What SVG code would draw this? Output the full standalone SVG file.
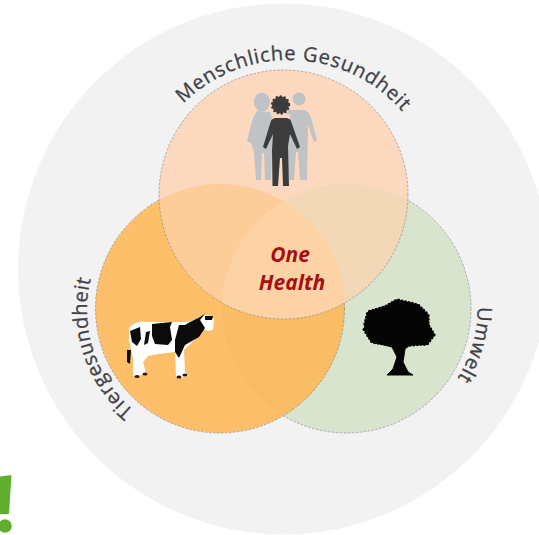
<svg xmlns="http://www.w3.org/2000/svg" width="539" height="535" viewBox="0 0 539 535">
<style>
.lbl{font-family:"Open Sans","Noto Sans","DejaVu Sans",sans-serif;font-size:20px;fill:#3f4146;stroke:#3f4146;stroke-width:.3}
.one{font-family:"Open Sans","Noto Sans",sans-serif;font-size:21px;font-weight:700;font-style:italic;fill:#a50f12;text-anchor:middle}
.ring{fill:none;stroke:#7d7d7d;stroke-width:.6;stroke-dasharray:2.5 1.5}
</style>
<defs>
<clipPath id="cT"><circle cx="283.500" cy="194.500" r="124.500"/></clipPath>
<clipPath id="cL"><circle cx="220" cy="308.500" r="124.500"/></clipPath>
<path id="pT" d="M139 210A150 150 0 0 1 439 210"/>
<path id="pL" d="M218 441A131 131 0 0 1 218 179"/>
<path id="pR" d="M346.500 177.500A131 131 0 0 1 346.500 439.500"/>
</defs>
<rect width="539" height="535" fill="#fff"/>
<g id="background"><circle cx="283.500" cy="269" r="265.500" fill="#f2f2f2"/></g>
<g id="umwelt">
<circle cx="346.500" cy="308.500" r="124.500" fill="#d9e4ce"/>
<circle class="ring" cx="346.500" cy="308.500" r="124.500"/>
<text class="lbl" letter-spacing=".6"><textPath href="#pR" startOffset="204">Umwelt</textPath></text>
<g fill="#050505" stroke="#050505">
<path stroke-width="1" d="M365 324L368 312L385 307L397 300L418 305L428 315L428 325L434 335L427 344L410 345L405 349L403 362L408 372L413 375H387L393 369L397 357L392 347L372 342L364 329Z"/>
<path fill="none" stroke-width="3.500" stroke-linecap="round" stroke-dasharray="0 3.500" d="M365 324L368 312L385 307L397 300L418 305L428 315L428 325L434 335L427 344L410 345M392 345L372 342L364 329"/>
</g>
</g>
<g id="tier">
<circle cx="220" cy="308.500" r="124.500" fill="#fdbf6a"/>
<circle cx="346.500" cy="308.500" r="124.500" fill="#f9bd66" clip-path="url(#cL)"/>
<circle class="ring" cx="220" cy="308.500" r="124.500"/>
<text class="lbl" letter-spacing=".5"><textPath href="#pL" startOffset="91">Tiergesundheit</textPath></text>
<path fill="#fff" d="M129 329C132 323 139 321 146 322L185 322C192 322 199 317 205 315L211 316L214 319L213 330L208 331L203 329C198 336 190 345 184 350L185 372L189 376L180 378L176 377L175 352L158 354L148 356L143 362L146 373L136 377L133 375L133 358L131 349L129 340Z"/>
<path fill="#0b0b0b" d="M130 331L140 327L141 339L137 346L132 342ZM146 332L150 331L148 343L144 345ZM152 324L172 322L170 327L172 340L168 345L155 344L152 336ZM179 325L185 325L190 322L200 317L205 314L200 320L205 328L199 337L185 345L179 358L175 352L175 340ZM205 316L213 316L212 320L205 320ZM127 350L131 350L130 364L127 362Z"/>
<g fill="#2a1a12"><ellipse cx="137" cy="376.500" rx="2.500" ry="1.500"/><ellipse cx="145" cy="374" rx="2.500" ry="1.500"/><ellipse cx="179" cy="377" rx="2.500" ry="1.500"/><ellipse cx="185" cy="375" rx="2.500" ry="1.500"/></g>
</g>
<g id="mensch">
<circle cx="283.500" cy="194.500" r="124.500" fill="#fcd8bf"/>
<g clip-path="url(#cT)"><circle cx="346.500" cy="308.500" r="124.500" fill="#f3d8b8"/><circle cx="220" cy="308.500" r="124.500" fill="#fdcd99"/><circle cx="346.500" cy="308.500" r="124.500" fill="#fdd2a4" clip-path="url(#cL)"/></g>
<circle class="ring" cx="283.500" cy="194.500" r="124.500"/>
<text class="lbl" letter-spacing=".8"><textPath href="#pT" startOffset="118">Menschliche Gesundheit</textPath></text>
<g fill="#bfc3c5">
<ellipse cx="262" cy="102" rx="8" ry="9.500"/>
<circle cx="299" cy="99" r="6.500"/>
<path d="M257 111L270 112L276 130L272 152L271 180H265L264 153H262L261 180H256L254 152L251 143L247 141L253 118Z"/>
<path d="M288 110H304C308 111 309 113 311 118L317 140L314 142L308 125L307 180H300L298 152H296L294 180H289L284 125Z"/>
</g>
<path fill="#fcd8bf" d="M272 114H290V119H272Z"/>
<circle cx="280.500" cy="105" r="8.500" fill="#3c3c3c"/>
<circle cx="280.500" cy="105" r="8.500" fill="none" stroke="#3c3c3c" stroke-width="2.500" stroke-linecap="round" stroke-dasharray="0 4"/>
<path fill="#3c3c3c" d="M275 118H287C291 119 291 121 292 124L300 147L297 149L290 134L288 146L289 186H283L282 158H280L278 186H272.500L272 150L273 134L266 149L263 147L270 124C271 120 272 119 275 118Z"/>
</g>
<g id="centre"><text class="one" x="290" y="262">One</text><text class="one" x="292" y="290">Health</text></g>
<g id="mark"><path fill="#5fae2e" d="M0 476.500L11.500 475L9 514H0Z"/><circle cx="5" cy="526" r="6.800" fill="#5fae2e"/></g>
</svg>
